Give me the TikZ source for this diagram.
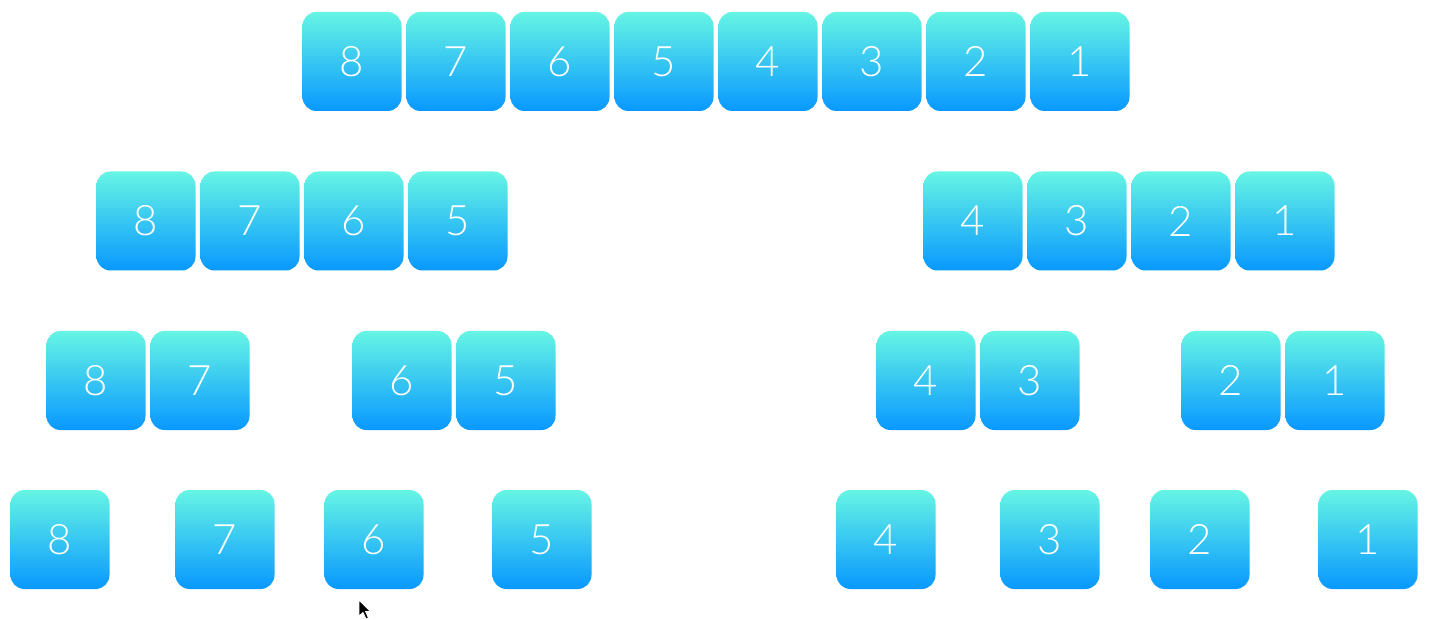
\documentclass[tikz,border=0pt]{standalone}
\usepackage{fontspec}
\setmainfont{Lato}[UprightFont=* Light]
\definecolor{boxtop}{RGB}{102,245,228}
\definecolor{boxbot}{RGB}{8,152,255}
\tikzset{
  cell/.style={minimum width=99pt, minimum height=99pt, inner sep=0pt,
    rounded corners=14pt, top color=boxtop, bottom color=boxbot,
    text=white, font=\fontsize{42}{42}\selectfont}
}
\begin{document}
\begin{tikzpicture}[x=1pt,y=-1pt]
\useasboundingbox[fill=white] (0,0) rectangle (1436,620);
% row 1
\node[cell] (a8) at (352,61.5) {8};
\node[cell] (a7) at (456,61.5) {7};
\node[cell] (a6) at (560,61.5) {6};
\node[cell] (a5) at (664,61.5) {5};
\node[cell] (a4) at (768,61.5) {4};
\node[cell] (a3) at (872,61.5) {3};
\node[cell] (a2) at (976,61.5) {2};
\node[cell] (a1) at (1080,61.5) {1};
% row 2
\node[cell] (b8) at (146,221) {8};
\node[cell] (b7) at (250,221) {7};
\node[cell] (b6) at (354,221) {6};
\node[cell] (b5) at (458,221) {5};
\node[cell] (b4) at (973,221) {4};
\node[cell] (b3) at (1077,221) {3};
\node[cell] (b2) at (1181,221) {2};
\node[cell] (b1) at (1285,221) {1};
% row 3
\node[cell] (c8) at (96,380.5) {8};
\node[cell] (c7) at (200,380.5) {7};
\node[cell] (c6) at (402,380.5) {6};
\node[cell] (c5) at (506,380.5) {5};
\node[cell] (c4) at (926,380.5) {4};
\node[cell] (c3) at (1030,380.5) {3};
\node[cell] (c2) at (1231,380.5) {2};
\node[cell] (c1) at (1335,380.5) {1};
% row 4
\node[cell] (d8) at (60,539.5) {8};
\node[cell] (d7) at (225,539.5) {7};
\node[cell] (d6) at (374,539.5) {6};
\node[cell] (d5) at (542,539.5) {5};
\node[cell] (d4) at (886,539.5) {4};
\node[cell] (d3) at (1050,539.5) {3};
\node[cell] (d2) at (1200,539.5) {2};
\node[cell] (d1) at (1368,539.5) {1};
% mouse cursor
\fill[black, draw=white, line width=0.8pt, line join=miter]
  (359,600) -- (359,616) -- (363,612.5) -- (366,619) -- (368.5,618) -- (365.5,611.5) -- (370.5,611.5) -- cycle;
\end{tikzpicture}
\end{document}
